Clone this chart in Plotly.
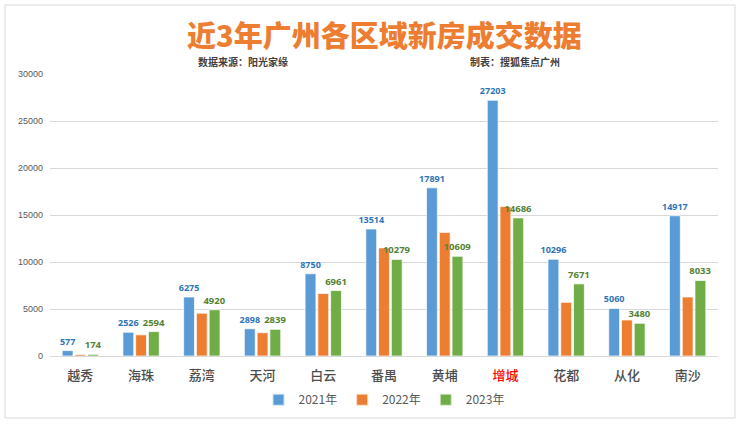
import plotly.graph_objects as go

districts = ["越秀", "海珠", "荔湾", "天河", "白云", "番禺", "黄埔", "增城", "花都", "从化", "南沙"]
sales_2021 = [577, 2526, 6275, 2898, 8750, 13514, 17891, 27203, 10296, 5060, 14917]
sales_2022 = [150, 2250, 4550, 2480, 6650, 11500, 13150, 15900, 5710, 3830, 6280]
sales_2023 = [174, 2594, 4920, 2839, 6961, 10279, 10609, 14686, 7671, 3480, 8033]
y_ticks = [0, 5000, 10000, 15000, 20000, 25000, 30000]

tick_text = [
    '<span style="color:#FF0000">增城</span>' if d == "增城" else d
    for d in districts
]

fig = go.Figure()

edge = dict(color="rgba(255,255,255,0.7)", width=1)

fig.add_trace(go.Bar(
    name="2021年", x=districts, y=sales_2021,
    marker=dict(color="#5B9BD5", line=edge),
    text=[str(v) for v in sales_2021], textposition="outside",
    textfont=dict(family="Open Sans", size=9, color="#2E75B6", weight="bold"),
    constraintext="none", cliponaxis=False,
))
fig.add_trace(go.Bar(
    name="2022年", x=districts, y=sales_2022,
    marker=dict(color="#ED7D31", line=edge),
))
fig.add_trace(go.Bar(
    name="2023年", x=districts, y=sales_2023,
    marker=dict(color="#70AD47", line=edge),
    text=[str(v) for v in sales_2023], textposition="outside",
    textfont=dict(family="Open Sans", size=9.5, color="#548235", weight="bold"),
    constraintext="none", cliponaxis=False,
))

fig.update_layout(
    width=740, height=424,
    margin=dict(l=50, r=22, t=74, b=68, autoexpand=False),
    paper_bgcolor="white", plot_bgcolor="white",
    barmode="group", bargap=0.37, bargroupgap=0.15,
    font=dict(family="Noto Sans CJK SC", color="#595959"),
    showlegend=True,
    legend=dict(
        orientation="h", x=0.5, xanchor="center", y=-0.155, yanchor="middle",
        font=dict(family="Noto Sans CJK SC", size=12, color="#595959"),
        itemwidth=30, itemsizing="constant", traceorder="normal",
    ),
)

fig.update_xaxes(
    tickvals=districts, ticktext=tick_text,
    tickfont=dict(family="Noto Sans CJK SC", size=13, color="#4D4D4D", weight=500),
    showline=True, linecolor="#D9D9D9", linewidth=1,
    ticks="", showgrid=False, ticklabelstandoff=7,
)
fig.update_yaxes(
    range=[0, 30000], tickvals=y_ticks, ticktext=[str(v) for v in y_ticks],
    tickfont=dict(family="Liberation Sans", size=9, color="#595959"),
    showgrid=True, gridcolor="#D9D9D9", gridwidth=1,
    zeroline=False, ticks="", ticklabelstandoff=6,
)

fig.add_annotation(
    text="近3年广州各区域新房成交数据", xref="paper", yref="paper",
    x=0.5, y=1.0, yshift=40, xanchor="center", yanchor="middle",
    showarrow=False,
    font=dict(family="Noto Sans CJK SC", size=29, color="#ED7D31", weight=900),
)
fig.add_annotation(
    text="<b>数据来源：阳光家缘</b>", xref="paper", yref="paper",
    x=(243 - 50) / 668, y=1.0, yshift=13, xanchor="center", yanchor="middle",
    showarrow=False,
    font=dict(family="Noto Sans CJK SC", size=10, color="#404040"),
)
fig.add_annotation(
    text="<b>制表：搜狐焦点广州</b>", xref="paper", yref="paper",
    x=(515 - 50) / 668, y=1.0, yshift=13, xanchor="center", yanchor="middle",
    showarrow=False,
    font=dict(family="Noto Sans CJK SC", size=10, color="#404040"),
)

# outer frame of the chart
fig.add_shape(
    type="rect", xref="paper", yref="paper",
    x0=-45 / 668, x1=(735 - 50) / 668,
    y0=-(418 - 356) / 282, y1=1 + (74 - 5) / 282,
    line=dict(color="#D9D9D9", width=1), layer="below",
)

fig.write_html(
    "out.html",
    config={"displayModeBar": False},
    post_script="document.body.style.margin = '0';",
)
